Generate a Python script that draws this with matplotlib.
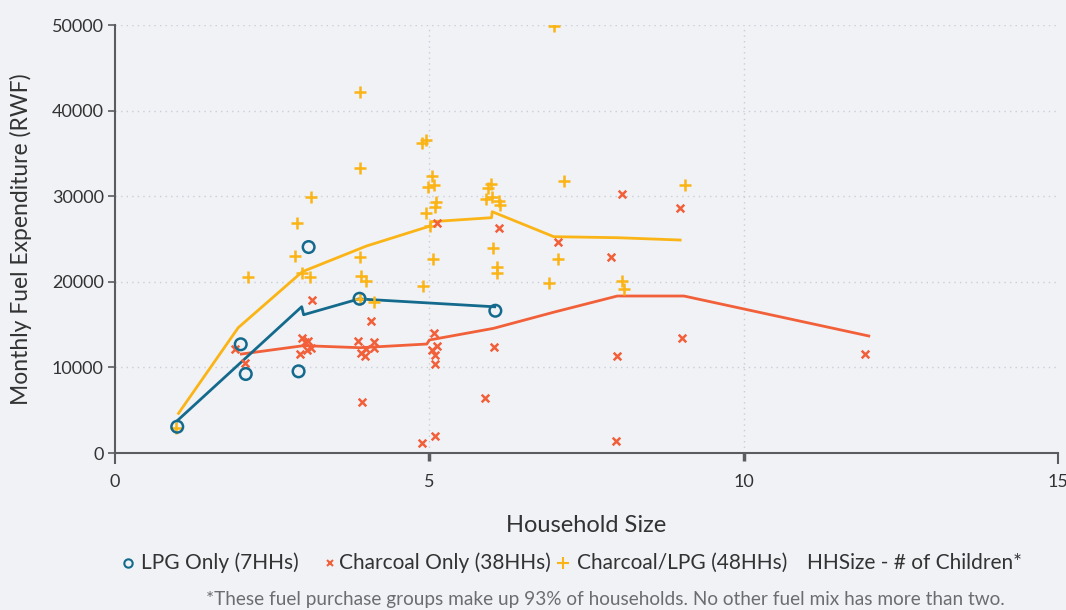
import matplotlib
matplotlib.use("Agg")
import matplotlib.pyplot as plt
from matplotlib.lines import Line2D

plt.rcParams['font.family'] = ['Lato', 'DejaVu Sans']

# ---- data ----
lpg_x = [0.99, 2.00, 2.08, 2.92, 3.08, 3.89, 6.05]
lpg_y = [3070, 12700, 9230, 9540, 24060, 18020, 16620]

charcoal_x = [1.91, 2.06, 3.13, 2.97, 3.03, 3.07, 2.94, 3.05, 3.11, 4.07, 3.87, 4.12,
              3.99, 4.12, 3.91, 3.97, 3.93, 5.08, 5.12, 5.05, 5.09, 5.09, 4.88, 5.09,
              5.12, 6.11, 6.03, 5.89, 7.05, 8.06, 8.98, 7.89, 9.02, 7.99, 11.93, 7.97]
charcoal_y = [12110, 10550, 17870, 13470, 13000, 13120, 11560, 12030, 12300, 15420, 13080, 13000,
              12150, 12230, 11720, 11330, 5920, 14050, 12500, 12030, 11450, 10400, 1200, 1990,
              26830, 26240, 12420, 6390, 24610, 30250, 28650, 22930, 13470, 11370, 11530, 1370]

mix_x = [3.89, 4.89, 4.94, 3.90, 5.05, 4.98, 5.07, 5.11, 5.09, 4.95, 5.01, 5.06, 4.90,
         5.94, 5.98, 5.90, 5.99, 6.11, 6.12, 6.01, 6.08, 6.08, 6.98, 7.14, 7.05, 6.90,
         2.89, 3.12, 2.87, 2.12, 2.98, 3.10, 3.90, 3.92, 3.99, 4.12, 3.90, 0.97,
         9.06, 8.07, 8.09]
mix_y = [42130, 36240, 36560, 33330, 32390, 31030, 31300, 29350, 28770, 28070, 26510, 22620, 19540,
         30900, 31420, 29630, 29940, 29430, 28970, 23910, 21760, 20990, 49910, 31770, 22660, 19890,
         26830, 29860, 23050, 20520, 21060, 20590, 22930, 20710, 20090, 17670, 18000, 2880,
         31270, 20090, 19120]

# trend lines (HHSize - # of Children)
lpg_line_x = [0.99, 2.97, 3.00, 3.88, 6.04]
lpg_line_y = [3770, 17090, 16150, 18000, 17080]

charcoal_line_x = [2.01, 3.00, 3.90, 4.96, 5.00, 6.02, 6.98, 7.99, 9.05, 11.99]
charcoal_line_y = [11560, 12540, 12300, 12730, 13200, 14560, 16450, 18340, 18340, 13670]

mix_line_x = [1.01, 1.96, 2.98, 4.00, 5.01, 5.03, 5.99, 6.00, 6.98, 8.00, 8.99]
mix_line_y = [4630, 14640, 21180, 24180, 26510, 27020, 27490, 28190, 25270, 25150, 24880]

x_ticks = [0, 5, 10, 15]
y_ticks = [0, 10000, 20000, 30000, 40000, 50000]

labels = ["LPG Only (7HHs)", "Charcoal Only (38HHs)", "Charcoal/LPG (48HHs)", "HHSize - # of Children*"]
footnote = "*These fuel purchase groups make up 93% of households. No other fuel mix has more than two."

# ---- style ----
BG = "#f0f2f6"
BLUE = "#136a8c"
ORANGE = "#f2603a"
YELLOW = "#fbb416"
AXIS = "#5a5c60"
TEXT = "#333333"

fig = plt.figure(figsize=(10.66, 6.10), dpi=100, facecolor=BG)
ax = fig.add_axes([115/1066, 1-453/610, (1058-115)/1066, (453-25)/610])
ax.set_facecolor(BG)

ax.set_xlim(0, 15)
ax.set_ylim(0, 50000)

# grid
for yv in y_ticks[1:]:
    ax.axhline(yv, color="#c9cdd6", lw=1.0, ls=(0, (1, 3)), zorder=0)
for xv in [5, 10]:
    ax.axvline(xv, color="#c9cdd6", lw=1.0, ls=(0, (1, 3)), zorder=0)

# lines
ax.plot(mix_line_x, mix_line_y, color=YELLOW, lw=2, zorder=2)
ax.plot(charcoal_line_x, charcoal_line_y, color=ORANGE, lw=2, zorder=2)
ax.plot(lpg_line_x, lpg_line_y, color=BLUE, lw=2, zorder=2)

# scatter
ax.scatter(mix_x, mix_y, marker='+', s=70, color=YELLOW, linewidths=1.8, zorder=3)
ax.scatter(charcoal_x, charcoal_y, marker='x', s=30, color=ORANGE, linewidths=1.8, zorder=3)
ax.scatter(lpg_x, lpg_y, marker='o', s=70, facecolors='none', edgecolors=BLUE, linewidths=1.8, zorder=4)

# spines
for s in ['top', 'right']:
    ax.spines[s].set_visible(False)
ax.spines['left'].set_color(AXIS)
ax.spines['bottom'].set_color(AXIS)
ax.spines['left'].set_linewidth(1.5)
ax.spines['bottom'].set_linewidth(1.5)

ax.set_yticks(y_ticks)
ax.set_yticklabels([str(v) for v in y_ticks])
ax.tick_params(axis='y', length=5, width=1.2, color=AXIS, labelsize=13, labelcolor=TEXT, pad=3)
ax.set_xticks(x_ticks)
ax.set_xticklabels([str(v) for v in x_ticks])
ax.tick_params(axis='x', length=8, width=1.5, color=AXIS, labelsize=13, labelcolor=TEXT, pad=7)
xt = ax.xaxis.get_major_ticks()
for i in (1, 2):
    xt[i].tick1line.set_color("#a4b2c8")
    xt[i].tick1line.set_markeredgewidth(2.5)
    xt[i].tick1line.set_markersize(6)

ax.set_ylabel("Monthly Fuel Expenditure (RWF)", fontsize=16.5, color=TEXT, labelpad=14)
ax.set_xlabel("Household Size", fontsize=17, color=TEXT, labelpad=18)

# legend (manual)
ly = 1 - 563/610
fig.add_artist(Line2D([128/1066], [ly], marker='o', ms=6, mfc='none', mec=BLUE, mew=1.5, transform=fig.transFigure))
fig.text(141/1066, ly, labels[0], fontsize=15, color=TEXT, va='center', ha='left')
fig.add_artist(Line2D([330/1066], [ly], marker='x', ms=5, mec=ORANGE, mew=1.5, transform=fig.transFigure))
fig.text(339/1066, ly, labels[1], fontsize=15, color=TEXT, va='center', ha='left')
fig.add_artist(Line2D([563/1066], [ly], marker='+', ms=8, mec=YELLOW, mew=1.5, transform=fig.transFigure))
fig.text(577/1066, ly, labels[2], fontsize=15, color=TEXT, va='center', ha='left')
fig.text(807/1066, ly, labels[3], fontsize=15, color=TEXT, va='center', ha='left')

fig.text(605/1066, 1 - 600/610, footnote, fontsize=13.7, color="#6b6d70", va='center', ha='center')

fig.savefig("out.png", dpi=100, facecolor=BG)
